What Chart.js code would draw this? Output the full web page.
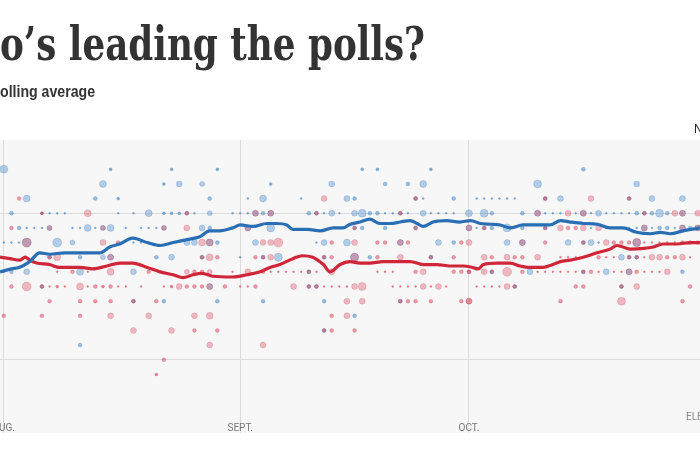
<!DOCTYPE html>
<html>
<head>
<meta charset="utf-8">
<script src="https://cdn.jsdelivr.net/npm/chart.js@4.4.1/dist/chart.umd.min.js"></script>
<style>
    html, body { margin: 0; padding: 0; background: #fff; }
    #wrap { position: relative; width: 700px; height: 450px; }
</style>
</head>
<body>
<div id="wrap"><canvas id="chart"></canvas></div>
<script>
// days counted from Aug. 1
const monthDays = [0, 31, 61]
const monthLabels = ["AUG.", "SEPT.", "OCT."]
const gridPcts = [40, 50]

// polling averages
const demLineDays = [-0.5, 1, 2, 3.4, 4.7, 6, 8, 10, 12.6, 13.9, 15.2, 16.9, 18.8, 20.5, 22.2, 24, 25.7, 27, 28.3, 30, 31, 32.7, 34.5, 35.8, 37.1, 37.9, 39.8, 41.5, 43.2, 44.5, 45.4, 46.7, 48, 49.3, 50.7, 52, 53.3, 54.2, 55, 56.3, 58.1, 59.8, 61.2, 62.5, 63.8, 65.1, 66.4, 68.1, 70, 71.6, 73, 74.3, 76, 77.8, 79.5, 81.2, 83, 84.8, 86.1, 87.4, 89.1, 91.3]
const demLine = [46.0, 46.2, 46.3, 46.7, 47.3, 47.2, 47.3, 47.3, 47.3, 47.7, 47.9, 48.3, 48.0, 47.8, 48.0, 48.2, 48.4, 48.8, 48.8, 49.0, 49.2, 49.1, 49.3, 49.3, 49.2, 48.9, 48.9, 48.8, 49.0, 49.0, 49.25, 49.4, 49.6, 49.3, 49.3, 49.4, 49.5, 49.3, 49.1, 49.4, 49.5, 49.4, 49.5, 49.3, 49.25, 49.2, 49.0, 49.2, 49.2, 49.2, 49.5, 49.4, 49.3, 49.25, 49.0, 49.0, 48.7, 48.6, 48.7, 48.6, 48.8, 49.0]

const repLineDays = [-0.5, 0.8, 2.1, 2.8, 3.4, 4.3, 6, 7.3, 10, 11.7, 13.5, 15.2, 16.9, 18.8, 20.5, 22.2, 23.5, 24.8, 26, 27.4, 30, 31.9, 33.6, 34.9, 36.2, 37.9, 39.2, 40.5, 41.9, 42.8, 44.1, 45.4, 46.7, 48, 49.7, 52, 53.3, 55, 56.8, 58.5, 60.2, 61.5, 62.2, 62.9, 64.7, 66.4, 67.7, 69, 70.7, 72, 73, 74.3, 76, 77.8, 79.5, 80.4, 81.2, 82.2, 83.9, 85.2, 86.5, 88.3, 90, 91.3]
const repLine = [47.0, 46.9, 46.8, 47.0, 46.8, 46.6, 46.5, 46.3, 46.3, 46.2, 46.4, 46.6, 46.6, 46.3, 46.0, 45.8, 45.6, 45.8, 45.9, 45.7, 45.65, 45.8, 46.0, 46.3, 46.5, 46.9, 47.1, 47.0, 46.5, 46.0, 46.5, 46.7, 46.6, 46.6, 46.7, 46.7, 46.7, 46.5, 46.5, 46.4, 46.4, 46.3, 46.2, 46.5, 46.6, 46.6, 46.4, 46.3, 46.3, 46.5, 46.7, 46.8, 47.0, 47.3, 47.55, 47.8, 47.7, 47.55, 47.6, 47.7, 47.9, 47.9, 48.0, 48.0]

// individual polls: [day, percent, dot radius]
const demDots = [
    [0,53,4],[14,53,1.5],[22,53,1.5],[28,53,1.5],
    [13,52,3.5],[21,52,1.5],[23,52,3],[26,52,2.5],
    [3,51,3.5],[12,51,2],[15,51,1.5],[27,51,2],
    [1,50,2],[6,50,1],[7,50,1],[8,50,1],[15,50,1],[17,50,1],[19,50,3.5],[21,50,1.5],[22,50,1.5],[23,50,1.5],[25,50,1],[27,50,2.5],[30,50,1],
    [2,49,2],[3,49,1],[4,49,1],[5,49,1],[9,49,1],[10,49,1],[11,49,3.5],[12,49,1],[14,49,3.5],[16,49,1],[18,49,1],[19,49,1],[20,49,1],[26,49,3],[27,49,2],
    [0,48,1],[1,48,1],[2,48,1],[7,48,4.5],[9,48,2.5],[17,48,1],[18,48,1],[19,48,1],[24,48,3],[25,48,3],[28,48,2],
    [10,47,2],[13,47,2.5],[20,47,2],[22,47,3],
    [1,46,2],[3,46,3],[10,46,3.5],[17,46,3],
    [21,44,2],[28,44,2],
    [10,41,2],
    [47,53,1.5],[49,53,1.5],[56,53,1.5],
    [35,52,1.5],[43,52,3],[50,52,2],[53,52,2],[55,52,3.5],
    [32,51,1],[34,51,3.5],[39,51,1],[45,51,3],[46,51,2],[55,51,1],[59,51,2],
    [31,50,1],[32,50,1],[34,50,2],[40,50,2],[42,50,1],[43,50,3],[44,50,1],[46,50,3],[47,50,4],[48,50,2],[49,50,2],[50,50,1],[51,50,1],[53,50,1],[55,50,3],[56,50,1],[57,50,1],[58,50,1],[59,50,1],[61,50,3.5],
    [35,49,4],[47,49,2],[50,49,2],
    [33,48,3],[41,48,1],[42,48,3],[45,48,3.5],[57,48,3],[59,48,2],
    [31,47,1],[36,47,4],[48,47,2],
    [34,44,2],[42,44,2],
    [46,43,2],
    [76,53,2],
    [70,52,4],[83,52,3],
    [62,51,1],[63,51,1],[64,51,1],[65,51,1],[66,51,1],[67,51,1],[73,51,3],[85,51,3],[89,51,3],
    [63,50,4],[64,50,2],[68,50,2],[71,50,1],[72,50,1],[73,50,1],[75,50,1],[77,50,1],[78,50,3],[79,50,1],[80,50,1],[81,50,1],[82,50,1],[83,50,2],[85,50,2],[86,50,4],[87,50,2],
    [62,49,1],[64,49,2],[66,49,4],[68,49,2],[77,49,1],[79,49,1],[81,49,1],[82,49,1],[83,49,1],[85,49,1],[86,49,2],[87,49,2],[88,49,1],[90,49,2],
    [66,48,3],[74,48,3],[77,48,3],[78,48,1],
    [81,47,3],
    [69,46,3],[79,46,3],[89,46,2],
]

const repDots = [
    [2,51,2],
    [11,50,3.5],
    [1,49,2],[24,49,3],
    [13,48,3],[15,48,2],[26,48,3.5],
    [7,47,3.5],[27,47,3.5],[28,47,2],
    [0,46,1],[7,46,1],[9,46,2],[11,46,1],[14,46,3.5],[19,46,2],[24,46,2.5],[25,46,2],[26,46,2],[27,46,2.5],
    [1,45,2],[3,45,4.5],[6,45,1],[7,45,1.5],[8,45,1],[10,45,3.5],[11,45,1],[12,45,2],[13,45,1.5],[14,45,2],[15,45,1],[16,45,1],[18,45,1],[21,45,1],[22,45,1.5],[23,45,3],[24,45,2],[25,45,2],[26,45,2],[29,45,2],
    [6,44,2],[10,44,2],[12,44,2],[14,44,2],[20,44,2],
    [0,43,2],[5,43,2],[10,43,2],[14,43,3],[19,43,3],[25,43,3],[27,43,3.5],
    [17,42,3],[22,42,3],[25,42,2],[28,42,2],
    [27,41,3],[21,40,2],[20,39,1.5],
    [42,51,3],
    [34,48,3],[35,48,3],[36,48,4.5],[43,48,2],[46,48,3],[49,48,2],[50,48,2],[53,48,2],[60,48,2],[61,48,3],
    [33,47,2],[35,47,3],[43,47,2],[49,47,2],[52,47,3],[59,47,2],
    [30,46,1],[32,46,3],[34,46,2],[35,46,1],[36,46,1],[37,46,1],[38,46,1],[39,46,1],[41,46,1],[43,46,3],[49,46,1],[50,46,1],[51,46,1],[54,46,2],[55,46,3],[59,46,2],[60,46,2],[61,46,2],
    [31,45,1],[32,45,1],[33,45,2],[38,45,3],[42,45,1],[43,45,1],[44,45,1],[45,45,1],[46,45,3],[47,45,4],[51,45,1],[52,45,1],[53,45,1],[54,45,1],[55,45,3],[56,45,1],[57,45,3],[58,45,1],
    [45,44,3],[47,44,3],[53,44,2],[54,44,2],[56,44,2],[60,44,2],[61,44,3],
    [43,43,2],[45,43,3],
    [43,42,2],[46,42,2],
    [34,41,3],
    [77,51,3],
    [74,50,3],[88,50,3],[91,50,3],
    [73,49,3],[74,49,2],[75,49,2],[76,49,3],[78,49,3],
    [71,48,2],[79,48,3],[80,48,2],[81,48,2],[82,48,2],[84,48,1],[85,48,1],[86,48,1],[87,48,1],[88,48,1],[89,48,2],[90,48,2],[91,48,2],
    [63,47,3],[64,47,2],[66,47,3],[67,47,2],[68,47,2],[70,47,3],[73,47,1],[74,47,1],[75,47,1],[78,47,2],[79,47,1],[80,47,1],[84,47,1],[85,47,3],[86,47,3],[87,47,2],[88,47,2],[89,47,3],[90,47,1],
    [61,46,2],[63,46,3],[66,46,4.5],[68,46,2],[70,46,1],[71,46,1],[72,46,1],[73,46,1],[74,46,1],[75,46,1],[77,46,2],[78,46,1],[80,46,1],[81,46,1],[83,46,2],[84,46,1],[85,46,1],[86,46,1],[87,46,3],
    [62,45,1],[63,45,1],[64,45,1],[65,45,1],[66,45,3],[75,45,2],[76,45,2],[83,45,3],[90,45,2],
    [61,44,3],[73,44,2],[81,44,4],[89,44,2],
]

// spots where a blue and a red dot sit on top of each other
const mixedDots = [
    [5,50,1.5],[24,50,2],
    [6,49,2.5],[13,49,2.5],[21,49,2.5],
    [3,48,4.5],[27,48,3.5],
    [6,47,2],[14,47,3],[26,47,2],
    [5,45,2],[27,45,3],
    [17,44,2],
    [54,51,2],
    [33,50,3],[35,50,3],[41,50,2],[52,50,2],
    [32,49,3],[46,49,2],[54,49,2],[61,49,3],
    [52,48,3],
    [34,47,2],[42,47,2],[46,47,4],[56,47,2],
    [40,46,2],
    [40,45,2],[41,45,2],
    [52,44,2],
    [42,42,2],
    [71,51,2],[82,51,2],
    [70,50,3],[76,50,3],[84,50,2],[89,50,3],
    [63,49,2],[71,49,2],[84,49,3],[89,49,3],[91,49,3],
    [68,48,3],[76,48,2],[83,48,4],
    [82,47,2],[83,47,2],
    [64,46,2],[76,46,2],[82,46,3],
    [67,45,2],[81,45,2],
]

const BLUE = "#2a6fb3"
const RED = "#d0263a"

const toPoints = (days, vals) => days.map((x, i) => ({ x, y: vals[i] }))
const toBubbles = dots => dots.map(([x, y, r]) => ({ x, y, r }))

const dotAlpha = r => (r <= 1.5 ? 0.7 : r <= 2 ? 0.55 : 0.4)

const frame = {
    id: "frame",
    beforeDraw(chart) {
        const { ctx, chartArea: a } = chart
        ctx.save()
        ctx.fillStyle = "#f7f7f7"
        ctx.fillRect(a.left, a.top, a.right - a.left, a.bottom - a.top)

        // headline, cropped on the left like the source
        ctx.fillStyle = "#333"
        ctx.textBaseline = "alphabetic"
        ctx.font = "bold 47px 'DejaVu Serif'"
        const lead = ctx.measureText("Wh").width
        const rest = ctx.measureText("o’s leading the polls?").width
        let s = 425 / rest
        ctx.save()
        ctx.scale(s, 1)
        ctx.fillText("Who’s leading the polls?", -lead, 60)
        ctx.restore()

        ctx.font = "bold 16px 'Liberation Sans'"
        const p = ctx.measureText("P").width
        const sub = ctx.measureText("olling average").width
        s = 95 / sub
        ctx.save()
        ctx.scale(s, 1)
        ctx.fillText("Polling average", -p, 97)
        ctx.restore()

        ctx.font = "12px 'Liberation Sans'"
        ctx.fillStyle = "#222"
        ctx.fillText("NOW", 694, 133)
        ctx.restore()
    },
    afterDraw(chart) {
        const { ctx, scales: { x }, chartArea: a } = chart
        ctx.save()
        ctx.font = "10px Roboto"
        ctx.fillStyle = "#777"
        ctx.textAlign = "center"
        ctx.textBaseline = "middle"
        monthDays.forEach((d, i) => {
            ctx.fillText(monthLabels[i], x.getPixelForValue(d), a.bottom - 5)
        })
        ctx.textAlign = "left"
        ctx.fillStyle = "#888"
        ctx.fillText("ELECTION DAY", 686, a.bottom - 16)
        ctx.restore()
    },
}

new Chart(document.getElementById("chart"), {
    type: "bubble",
    data: {
        datasets: [
            {
                type: "line",
                data: toPoints(demLineDays, demLine),
                borderColor: BLUE,
                borderWidth: 3.2,
                pointRadius: 0,
                cubicInterpolationMode: "monotone",
                order: 0,
            },
            {
                type: "line",
                data: toPoints(repLineDays, repLine),
                borderColor: RED,
                borderWidth: 3.2,
                pointRadius: 0,
                cubicInterpolationMode: "monotone",
                order: 1,
            },
            {
                data: toBubbles(demDots.concat(mixedDots)),
                backgroundColor: c => `rgba(70,140,205,${dotAlpha(c.raw.r)})`,
                borderColor: "rgba(50,100,160,0.3)",
                borderWidth: 0.6,
                order: 3,
            },
            {
                data: toBubbles(repDots.concat(mixedDots)),
                backgroundColor: c => `rgba(220,60,85,${dotAlpha(c.raw.r) - 0.05})`,
                borderColor: "rgba(170,40,60,0.25)",
                borderWidth: 0.6,
                order: 2,
            },
        ],
    },
    options: {
        responsive: true,
        maintainAspectRatio: false,
        animation: false,
        layout: {
            autoPadding: false,
            padding: { top: 140, left: 0, right: 0, bottom: 0 },
        },
        plugins: {
            legend: { display: false },
            tooltip: { enabled: false },
        },
        scales: {
            x: {
                type: "linear",
                min: -0.5,
                max: 91.3,
                afterBuildTicks: scale => {
                    scale.ticks = monthDays.map(value => ({ value }))
                },
                afterFit: scale => {
                    scale.height = 17
                },
                ticks: { display: false },
                grid: { color: "#dcdcdc", drawTicks: false },
                border: { display: false },
            },
            y: {
                min: 35,
                max: 55,
                afterBuildTicks: scale => {
                    scale.ticks = gridPcts.map(value => ({ value }))
                },
                afterFit: scale => {
                    scale.width = 0
                },
                ticks: { display: false },
                grid: { color: "#dcdcdc", drawTicks: false },
                border: { display: false },
            },
        },
    },
    plugins: [frame],
})
</script>
</body>
</html>
